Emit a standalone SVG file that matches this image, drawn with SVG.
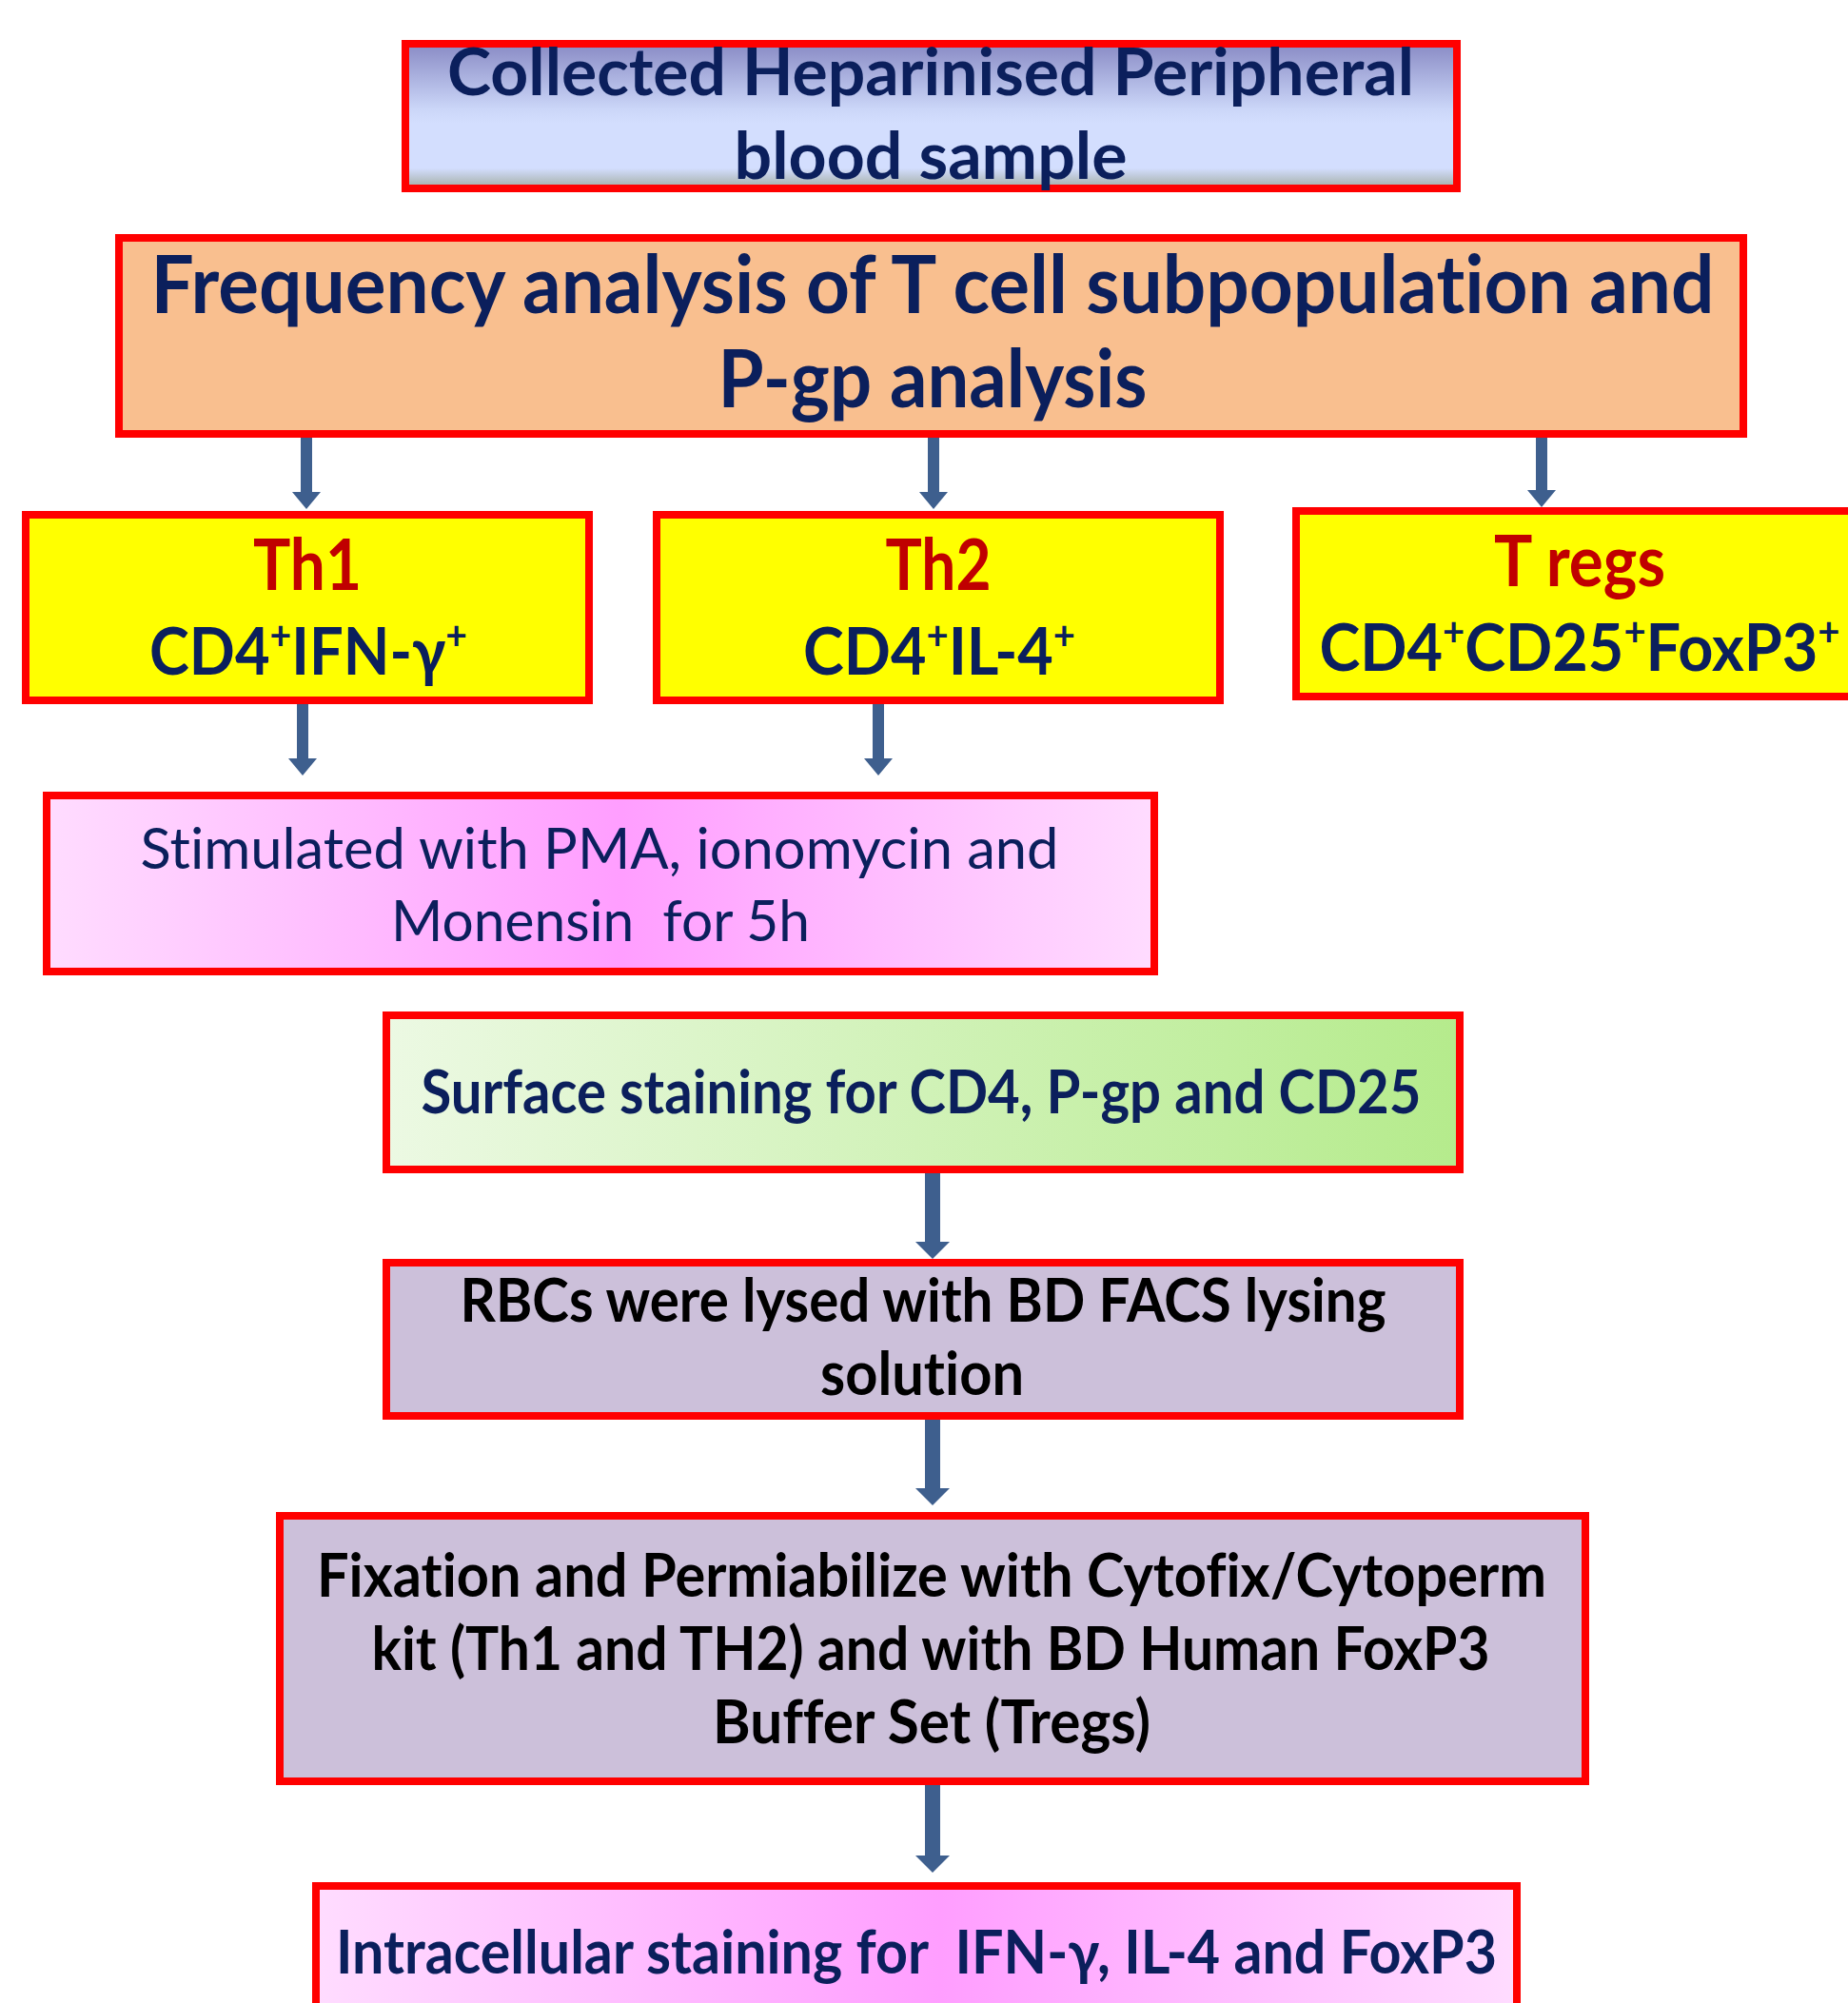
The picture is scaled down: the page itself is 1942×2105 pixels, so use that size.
<svg xmlns="http://www.w3.org/2000/svg" width="1942" height="2105" viewBox="0 0 1942 2105">
<defs>
<linearGradient id="gBlue" x1="0" y1="0" x2="0" y2="1">
<stop offset="0" stop-color="#898bc5"/>
<stop offset="0.45" stop-color="#cbd6f8"/>
<stop offset="0.55" stop-color="#d3defe"/>
<stop offset="0.86" stop-color="#d3defe"/>
<stop offset="1" stop-color="#a2aca2"/>
</linearGradient>
<linearGradient id="gPink" x1="0" y1="0" x2="1" y2="0">
<stop offset="0" stop-color="#ffdcff"/>
<stop offset="0.52" stop-color="#ff9eff"/>
<stop offset="1" stop-color="#ffdcff"/>
</linearGradient>
<linearGradient id="gGreen" x1="0" y1="0" x2="1" y2="0">
<stop offset="0" stop-color="#ecf9e3"/>
<stop offset="1" stop-color="#b5eb8c"/>
</linearGradient>
</defs>
<style>
.box{stroke:#ff0000;stroke-width:8}
.t{font-family:Lato,"Liberation Sans",sans-serif;text-anchor:middle;font-variant-ligatures:none}
.b{font-weight:bold}
.navy{fill:#0b1f5c}
.red{fill:#c00000}
.blk{fill:#000000}
.arrow{fill:#3e5f8e}
</style>
<rect width="1942" height="2105" fill="#ffffff"/>

<g id="node-blood">
<rect class="box" x="426" y="46" width="1105" height="152" fill="url(#gBlue)"/>
<text class="t b navy" x="978" y="100" font-size="68" textLength="1016" lengthAdjust="spacingAndGlyphs">Collected Heparinised Peripheral</text>
<text class="t b navy" x="978" y="188" font-size="68" textLength="413" lengthAdjust="spacingAndGlyphs">blood sample</text>
</g>

<g id="node-frequency">
<rect class="box" x="125" y="250" width="1707" height="206" fill="#f9bf8f"/>
<text class="t b navy" x="980" y="329" font-size="84" textLength="1643" lengthAdjust="spacingAndGlyphs">Frequency analysis of T cell subpopulation and</text>
<text class="t b navy" x="980" y="428" font-size="84" textLength="451" lengthAdjust="spacingAndGlyphs">P-gp analysis</text>
</g>

<g id="node-th1">
<rect class="box" x="27" y="541" width="592" height="195" fill="#ffff00"/>
<text class="t b red" x="323" y="620" font-size="74" textLength="114" lengthAdjust="spacingAndGlyphs">Th1</text>
<text class="t b navy" x="324" y="709" font-size="68" textLength="334" lengthAdjust="spacingAndGlyphs">CD4<tspan font-size="42" dy="-26">+</tspan><tspan dy="26">IFN-γ</tspan><tspan font-size="42" dy="-26">+</tspan></text>
</g>

<g id="node-th2">
<rect class="box" x="690" y="541" width="592" height="195" fill="#ffff00"/>
<text class="t b red" x="986" y="620" font-size="74" textLength="111" lengthAdjust="spacingAndGlyphs">Th2</text>
<text class="t b navy" x="987" y="709" font-size="68" textLength="286" lengthAdjust="spacingAndGlyphs">CD4<tspan font-size="42" dy="-26">+</tspan><tspan dy="26">IL-4</tspan><tspan font-size="42" dy="-26">+</tspan></text>
</g>

<g id="node-tregs">
<rect class="box" x="1362" y="537" width="600" height="195" fill="#ffff00"/>
<text class="t b red" x="1660" y="616" font-size="74" textLength="180" lengthAdjust="spacingAndGlyphs">T regs</text>
<text class="t b navy" x="1660" y="705" font-size="68" textLength="547" lengthAdjust="spacingAndGlyphs">CD4<tspan font-size="42" dy="-26">+</tspan><tspan dy="26">CD25</tspan><tspan font-size="42" dy="-26">+</tspan><tspan dy="26">FoxP3</tspan><tspan font-size="42" dy="-26">+</tspan></text>
</g>

<g id="node-stimulated">
<rect class="box" x="49" y="836" width="1164" height="185" fill="url(#gPink)"/>
<text class="t navy" x="630" y="913" font-size="60" textLength="965" lengthAdjust="spacingAndGlyphs">Stimulated with PMA, ionomycin and</text>
<text class="t navy" x="631" y="989" font-size="60" textLength="440" lengthAdjust="spacingAndGlyphs" xml:space="preserve">Monensin  for 5h</text>
</g>

<g id="node-surface">
<rect class="box" x="406" y="1067" width="1128" height="162" fill="url(#gGreen)"/>
<text class="t b navy" x="968" y="1170" font-size="64" textLength="1051" lengthAdjust="spacingAndGlyphs">Surface staining for CD4, P-gp and CD25</text>
</g>

<g id="node-rbc">
<rect class="box" x="406" y="1327" width="1128" height="161" fill="#ccc0da"/>
<text class="t b blk" x="970" y="1389" font-size="64" textLength="973" lengthAdjust="spacingAndGlyphs">RBCs were lysed with BD FACS lysing</text>
<text class="t b blk" x="969" y="1466" font-size="64" textLength="214" lengthAdjust="spacingAndGlyphs">solution</text>
</g>

<g id="node-fixation">
<rect class="box" x="294" y="1593" width="1372" height="279" fill="#ccc0da"/>
<text class="t b blk" x="979" y="1678" font-size="64" textLength="1292" lengthAdjust="spacingAndGlyphs">Fixation and Permiabilize with Cytofix/Cytoperm</text>
<text class="t b blk" x="978" y="1755" font-size="64" textLength="1175" lengthAdjust="spacingAndGlyphs">kit (Th1 and TH2) and with BD Human FoxP3</text>
<text class="t b blk" x="979" y="1832" font-size="64" textLength="460" lengthAdjust="spacingAndGlyphs">Buffer Set (Tregs)</text>
</g>

<g id="node-intracellular">
<rect class="box" x="332" y="1982" width="1262" height="160" fill="url(#gPink)"/>
<text class="t b navy" x="963" y="2074" font-size="64" textLength="1220" lengthAdjust="spacingAndGlyphs" xml:space="preserve">Intracellular staining for  IFN-γ, IL-4 and FoxP3</text>
</g>

<g id="connectors">
<path class="arrow" d="M316,460 H328 V517 H337 L322,535 L307,517 H316 Z"/>
<path class="arrow" d="M975,460 H987 V517 H996 L981,535 L966,517 H975 Z"/>
<path class="arrow" d="M1614,460 H1626 V515 H1635 L1620,533 L1605,515 H1614 Z"/>
<path class="arrow" d="M312,740 H324 V797 H333 L318,815 L303,797 H312 Z"/>
<path class="arrow" d="M917,740 H929 V797 H938 L923,815 L908,797 H917 Z"/>
<path class="arrow" d="M972,1233 H988 V1305 H998 L980,1323 L962,1305 H972 Z"/>
<path class="arrow" d="M972,1492 H988 V1564 H998 L980,1582 L962,1564 H972 Z"/>
<path class="arrow" d="M972,1876 H988 V1950 H998 L980,1968 L962,1950 H972 Z"/>
</g>
</svg>
